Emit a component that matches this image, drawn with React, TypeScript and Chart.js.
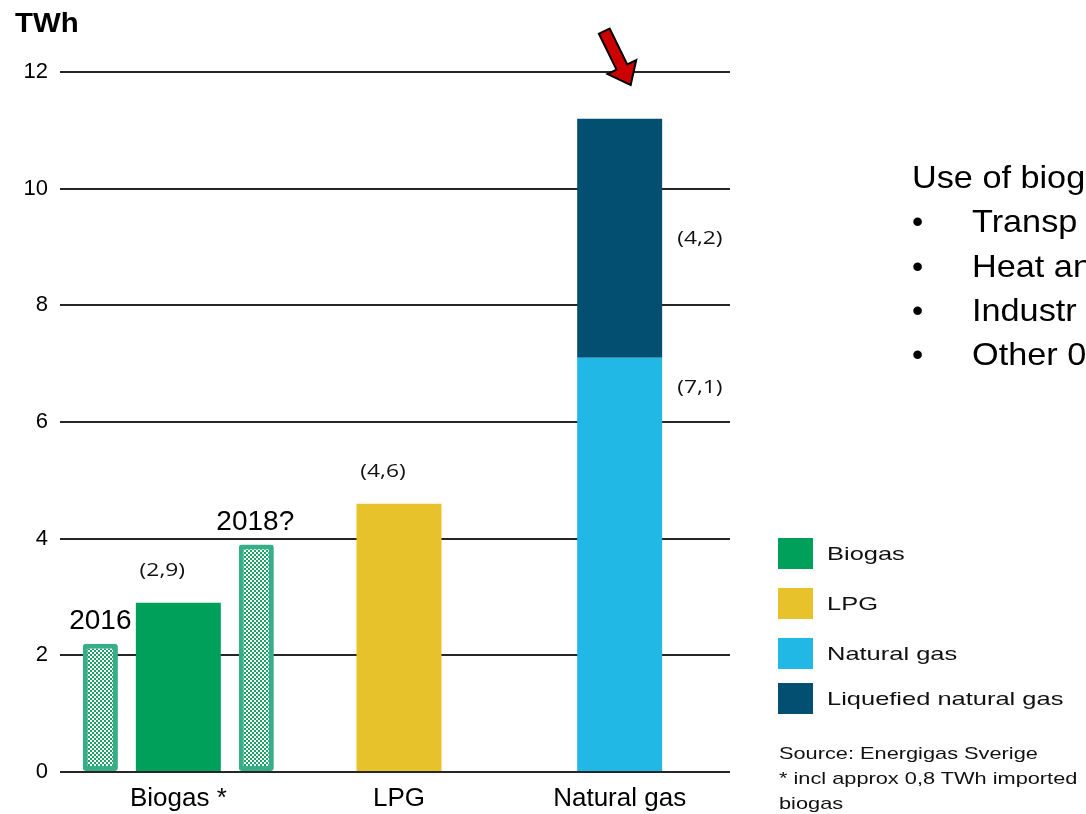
import React, { useEffect, useRef } from 'react';
import { Chart, registerables } from 'chart.js';

Chart.register(...registerables);

// ---------- data ----------
const categories = ['Biogas *', 'LPG', 'Natural gas'];
const mainValues = [2.9, 4.6, 7.1]; // Biogas (2017), LPG, Natural gas
const lngValues: (number | null)[] = [null, null, 4.1];
const biogas2016: (number | null)[] = [2.2, null, null];
const biogas2018: (number | null)[] = [3.9, null, null];
const mainLabels = ['(2,9)', '(4,6)', '(7,1)'];
const lngLabels: (string | null)[] = [null, null, '(4,2)'];
const label2016: (string | null)[] = ['2016', null, null];
const label2018: (string | null)[] = ['2018?', null, null];
const yTicks = [0, 2, 4, 6, 8, 10, 12];
const unitLabel = 'TWh';
const legendNames = ['Biogas', 'LPG', 'Natural gas', 'Liquefied natural gas'];
const usageTitle = 'Use of biog';
const usageItems = ['Transp', 'Heat an', 'Industr', 'Other 0'];
const sourceLines = ['Source: Energigas Sverige', '* incl approx 0,8 TWh imported', 'biogas'];

// ---------- styles ----------
const GREEN = '#00a05a';
const YELLOW = '#e8c22a';
const BLUE = '#22b8e6';
const NAVY = '#034f71';
const HATCH_BORDER = '#37ad88';
const HATCH_DOT = '#1aa364';
const legendColors = [GREEN, YELLOW, BLUE, NAVY];
const mainColors = [GREEN, YELLOW, BLUE];
const legendTops = [538, 588, 638, 683];
const FONT = '"Liberation Sans", Arial, Helvetica, sans-serif';
const LABEL_FONT = '"Open Sans", "Liberation Sans", sans-serif';

function makeHatch(): CanvasPattern | string {
  const c = document.createElement('canvas');
  c.width = 4;
  c.height = 4;
  const g = c.getContext('2d');
  if (!g) return HATCH_DOT;
  g.fillStyle = '#ffffff';
  g.fillRect(0, 0, 4, 4);
  g.fillStyle = HATCH_DOT;
  g.fillRect(0, 0, 2, 2);
  g.fillRect(2, 2, 2, 2);
  return g.createPattern(c, 'repeat') || HATCH_DOT;
}

function stretchedText(ctx: CanvasRenderingContext2D, text: string, x: number, y: number, sx: number) {
  ctx.save();
  ctx.translate(x, y);
  ctx.scale(sx, 1);
  ctx.fillText(text, 0, 0);
  ctx.restore();
}

const annotationPlugin = {
  id: 'annotations',
  afterDatasetsDraw(chart: any) {
    const ctx: CanvasRenderingContext2D = chart.ctx;
    const area = chart.chartArea;
    ctx.save();
    ctx.fillStyle = '#000';

    // unit
    ctx.font = `bold 28px ${FONT}`;
    ctx.textAlign = 'left';
    ctx.textBaseline = 'alphabetic';
    stretchedText(ctx, unitLabel, 15, 32, 1.05);

    const m2016 = chart.getDatasetMeta(0);
    const mMain = chart.getDatasetMeta(1);
    const mLng = chart.getDatasetMeta(2);
    const m2018 = chart.getDatasetMeta(3);

    // year labels above hatched bars
    ctx.font = `28px ${FONT}`;
    ctx.textAlign = 'center';
    ctx.textBaseline = 'alphabetic';
    label2016.forEach((t, i) => {
      const el = m2016.data[i];
      if (t && el) ctx.fillText(t, el.x, el.y - 15);
    });
    label2018.forEach((t, i) => {
      const el = m2018.data[i];
      if (t && el) ctx.fillText(t, el.x - 1, el.y - 15);
    });

    // value labels
    ctx.font = `19px ${LABEL_FONT}`;
    ctx.fillStyle = '#111';
    ctx.textBaseline = 'middle';
    const SX = 1.2;
    mainLabels.forEach((t, i) => {
      const el = mMain.data[i];
      if (!t || !el) return;
      if (lngValues[i] != null) {
        ctx.textAlign = 'left';
        stretchedText(ctx, t, el.x + el.width / 2 + 15, el.y + 30, SX);
      } else {
        ctx.textAlign = 'center';
        stretchedText(ctx, t, el.x - 16, el.y - 32, SX);
      }
    });
    lngLabels.forEach((t, i) => {
      const el = mLng.data[i];
      if (!t || !el) return;
      ctx.textAlign = 'left';
      stretchedText(ctx, t, el.x + el.width / 2 + 15, (el.y + el.base) / 2, SX);
    });

    // red arrow pointing at the natural gas bar
    const ng = mMain.data[2];
    if (ng) {
      const tx = ng.x + 11;
      const ty = area.top + 13;
      const len = Math.hypot(23, 47);
      const dx = 23 / len;
      const dy = 47 / len;
      const nx = -dy;
      const ny = dx;
      const L = 60;
      const H = 20;
      const hw = 16;
      const sw = 6;
      const bx = tx - H * dx;
      const by = ty - H * dy;
      const sx = tx - L * dx;
      const sy = ty - L * dy;
      ctx.beginPath();
      ctx.moveTo(sx + sw * nx, sy + sw * ny);
      ctx.lineTo(bx + sw * nx, by + sw * ny);
      ctx.lineTo(bx + hw * nx, by + hw * ny);
      ctx.lineTo(tx, ty);
      ctx.lineTo(bx - hw * nx, by - hw * ny);
      ctx.lineTo(bx - sw * nx, by - sw * ny);
      ctx.lineTo(sx - sw * nx, sy - sw * ny);
      ctx.closePath();
      ctx.fillStyle = '#cc0000';
      ctx.fill();
      ctx.lineWidth = 2;
      ctx.strokeStyle = '#000';
      ctx.stroke();
    }
    ctx.restore();
  },
};

function ChartCanvas() {
  const ref = useRef<HTMLCanvasElement | null>(null);
  useEffect(() => {
    if (!ref.current) return;
    const hatch = makeHatch();
    const CAT_PCT = 1.06;
    const chart = new Chart(ref.current, {
      type: 'bar',
      data: {
        labels: categories,
        datasets: [
          {
            label: '2016',
            data: biogas2016,
            stack: 's1',
            backgroundColor: hatch as any,
            borderColor: HATCH_BORDER,
            borderWidth: 5,
            borderRadius: 3,
            borderSkipped: false,
            barPercentage: 0.45,
            categoryPercentage: CAT_PCT,
          },
          {
            label: 'main',
            data: mainValues,
            stack: 's2',
            backgroundColor: mainColors,
            borderWidth: 0,
            barPercentage: 1.09,
            categoryPercentage: CAT_PCT,
          },
          {
            label: 'Liquefied natural gas',
            data: lngValues,
            stack: 's2',
            backgroundColor: NAVY,
            borderWidth: 0,
            barPercentage: 1.09,
            categoryPercentage: CAT_PCT,
          },
          {
            label: '2018?',
            data: biogas2018,
            stack: 's3',
            backgroundColor: hatch as any,
            borderColor: HATCH_BORDER,
            borderWidth: 5,
            borderRadius: 3,
            borderSkipped: false,
            barPercentage: 0.45,
            categoryPercentage: CAT_PCT,
          },
        ],
      },
      options: {
        responsive: false,
        animation: false,
        devicePixelRatio: 1,
        layout: { padding: { left: 0, right: 356, top: 72, bottom: 0 } },
        plugins: {
          legend: { display: false },
          tooltip: { enabled: false },
          title: { display: false },
        },
        scales: {
          x: {
            type: 'category',
            offset: true,
            grid: { display: false, drawTicks: false },
            border: { display: false },
            ticks: {
              color: '#000',
              font: { family: FONT, size: 26 },
              padding: 11,
              maxRotation: 0,
              autoSkip: false,
            },
            afterFit: (s: any) => {
              s.height = 42;
            },
          },
          y: {
            stacked: true,
            min: 0,
            max: 12,
            grid: {
              color: '#262626',
              lineWidth: 2,
              drawTicks: true,
              tickLength: 8,
            },
            border: { display: false },
            ticks: {
              color: '#000',
              font: { family: FONT, size: 22 },
              padding: 12,
            },
            afterBuildTicks: (s: any) => {
              s.ticks = yTicks.map((v) => ({ value: v }));
            },
            afterFit: (s: any) => {
              s.width = 68;
            },
          },
        },
      },
      plugins: [annotationPlugin],
    });
    return () => chart.destroy();
  }, []);
  return <canvas ref={ref} width={1086} height={814} style={{ position: 'absolute', left: 0, top: 0 }} />;
}

function SidePanel() {
  const usageBaselines = [188, 232, 277, 321, 365];
  const lineStyle = (baseline: number): React.CSSProperties => ({
    position: 'absolute',
    top: baseline - 27,
    fontSize: 32,
    lineHeight: '32px',
    whiteSpace: 'nowrap',
    fontFamily: FONT,
    color: '#000',
  });
  return (
    <>
      <div style={{ ...lineStyle(usageBaselines[0]), left: 912, transform: 'scaleX(1.07)', transformOrigin: 'left' }}>
        {usageTitle}
      </div>
      {usageItems.map((t, i) => (
        <React.Fragment key={t}>
          <div style={{ ...lineStyle(usageBaselines[i + 1]), left: 912 }}>•</div>
          <div style={{ ...lineStyle(usageBaselines[i + 1]), left: 972, transform: 'scaleX(1.07)', transformOrigin: 'left' }}>
            {t}
          </div>
        </React.Fragment>
      ))}
      {legendNames.map((name, i) => (
        <div
          key={name}
          style={{
            position: 'absolute',
            left: 778,
            top: legendTops[i],
            height: 31,
            display: 'flex',
            alignItems: 'center',
            whiteSpace: 'nowrap',
          }}
        >
          <div style={{ width: 35, height: 31, background: legendColors[i] }} />
          <div
            style={{
              marginLeft: 14,
              fontFamily: FONT,
              fontSize: 19,
              color: '#111',
              transform: 'scaleX(1.34)',
              transformOrigin: 'left',
            }}
          >
            {name}
          </div>
        </div>
      ))}
      <div
        style={{
          position: 'absolute',
          left: 779,
          top: 741,
          fontFamily: FONT,
          fontSize: 17,
          lineHeight: '25px',
          color: '#111',
          whiteSpace: 'nowrap',
          transform: 'scaleX(1.28)',
          transformOrigin: 'left',
        }}
      >
        {sourceLines.map((l) => (
          <div key={l}>{l}</div>
        ))}
      </div>
    </>
  );
}

export default function App() {
  return (
    <div
      style={{
        position: 'fixed',
        left: 0,
        top: 0,
        width: 1086,
        height: 814,
        overflow: 'hidden',
        background: '#fff',
      }}
    >
      <ChartCanvas />
      <SidePanel />
    </div>
  );
}
